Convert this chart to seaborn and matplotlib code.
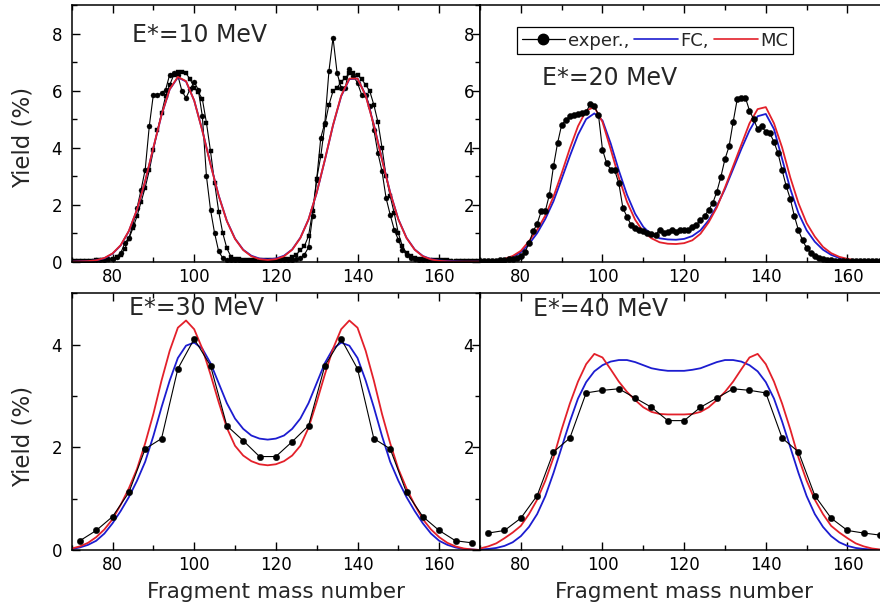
import matplotlib
matplotlib.use("Agg")
import numpy as np
import pandas as pd
import matplotlib.pyplot as plt
import seaborn as sns
from matplotlib.ticker import MultipleLocator
from matplotlib.lines import Line2D

# ---------------- data ----------------
mass_exp = list(range(70, 171))          # experimental points, step 1 (E*=10, 20 MeV)
mass_exp4 = list(range(72, 169, 4))      # experimental points, step 4 (E*=30, 40 MeV)
mass_th = list(range(70, 171, 2))        # theory curves

# E*=10 MeV : two experimental sets (circles / squares)
exp10_circ = [0.03, 0.03, 0.03, 0.03, 0.04, 0.04, 0.05, 0.05, 0.06, 0.08,
              0.10, 0.18, 0.30, 0.65, 0.83, 1.30, 1.88, 2.53, 3.23, 4.75,
              5.86, 5.86, 5.90, 6.03, 6.56, 6.60, 6.53, 5.98, 5.74, 6.05,
              6.30, 6.03, 5.10, 3.00, 1.82, 1.00, 0.36, 0.13, 0.07, 0.05,
              0.05, 0.05, 0.04, 0.04, 0.04, 0.04, 0.04, 0.04, 0.04, 0.04,
              0.05, 0.05, 0.05, 0.06, 0.07, 0.08,
              0.12, 0.25, 0.50, 1.60, 2.88, 4.34, 4.87, 6.68, 7.85, 6.62,
              6.09, 6.10, 6.76, 6.50, 6.27, 5.86, 5.85, 5.45, 4.63, 3.81,
              3.17, 2.23, 1.65, 1.12, 0.77, 0.42, 0.25, 0.13, 0.08, 0.06,
              0.05, 0.05, 0.05, 0.04, 0.04, 0.04, 0.04, 0.03, 0.03, 0.03,
              0.03, 0.03, 0.03, 0.03, 0.03]
exp10_sq = [0.03, 0.03, 0.03, 0.04, 0.04, 0.04, 0.05, 0.05, 0.06, 0.07,
            0.10, 0.15, 0.25, 0.45, 0.80, 1.18, 1.60, 2.10, 2.60, 3.20,
            3.90, 4.60, 5.20, 5.80, 6.20, 6.55, 6.65, 6.65, 6.60, 6.40,
            6.10, 5.95, 5.70, 4.87, 3.87, 2.76, 1.76, 1.00, 0.47, 0.18,
            0.10, 0.08, 0.07, 0.07, 0.06, 0.06, 0.06, 0.06, 0.06, 0.06,
            0.07, 0.07, 0.08,
            0.10, 0.15, 0.25, 0.40, 0.55, 0.90, 1.77, 2.90, 3.70, 4.80,
            5.50, 5.98, 6.10, 6.30, 6.45, 6.60, 6.60, 6.55, 6.40, 6.20,
            5.98, 5.50, 4.90, 4.00, 2.99, 2.30, 1.70, 1.00, 0.54, 0.30,
            0.20, 0.13, 0.10, 0.08, 0.07, 0.06, 0.06, 0.05, 0.05, 0.05,
            0.04, 0.04, 0.04, 0.04, 0.03, 0.03, 0.03, 0.03]
fc10 = [0.00, 0.01, 0.02, 0.05, 0.12, 0.28, 0.57, 1.07, 1.82, 2.82,
        3.99, 5.14, 6.04, 6.46, 6.32, 5.65, 4.60, 3.42, 2.32, 1.43,
        0.81, 0.42, 0.21, 0.11, 0.08, 0.11, 0.21, 0.43, 0.84, 1.48,
        2.41, 3.56, 4.78, 5.80, 6.40, 6.42, 5.84, 4.81, 3.59, 2.43,
        1.49, 0.84, 0.43, 0.20, 0.09, 0.04, 0.02, 0.01, 0.00, 0.00, 0.00]
mc10 = [0.00, 0.01, 0.02, 0.05, 0.13, 0.29, 0.58, 1.08, 1.83, 2.83,
        4.00, 5.15, 6.05, 6.48, 6.33, 5.65, 4.59, 3.41, 2.31, 1.42,
        0.80, 0.41, 0.19, 0.09, 0.06, 0.09, 0.19, 0.42, 0.83, 1.48,
        2.42, 3.57, 4.79, 5.82, 6.42, 6.42, 5.82, 4.79, 3.57, 2.42,
        1.48, 0.83, 0.42, 0.19, 0.08, 0.03, 0.01, 0.00, 0.00, 0.00, 0.00]

# E*=20 MeV
exp20 = [0.03, 0.03, 0.03, 0.04, 0.04, 0.05, 0.06, 0.08, 0.10, 0.14,
         0.19, 0.33, 0.65, 1.06, 1.33, 1.77, 1.78, 2.35, 3.35, 4.16,
         4.80, 4.96, 5.10, 5.16, 5.18, 5.22, 5.25, 5.53, 5.45, 5.16,
         3.93, 3.46, 3.23, 3.20, 2.75, 1.88, 1.58, 1.29, 1.17, 1.12,
         1.06, 1.00, 0.98, 0.94, 1.12, 1.00, 1.05, 1.12, 1.05, 1.12,
         1.12, 1.12, 1.20, 1.30, 1.45, 1.60, 1.82, 2.05, 2.45, 2.98,
         3.60, 4.04, 4.90, 5.70, 5.74, 5.75, 5.30, 5.00, 4.65, 4.75,
         4.55, 4.50, 4.20, 3.80, 3.20, 2.65, 2.20, 1.60, 1.10, 0.75,
         0.48, 0.30, 0.19, 0.13, 0.10, 0.07, 0.05, 0.04, 0.04, 0.03,
         0.03, 0.03, 0.03, 0.02, 0.02, 0.02, 0.02, 0.02, 0.02, 0.02, 0.02]
fc20 = [0.01, 0.02, 0.04, 0.08, 0.17, 0.33, 0.62, 1.00, 1.50, 2.12,
        2.90, 3.70, 4.45, 5.00, 5.20, 4.95, 4.15, 3.20, 2.35, 1.68,
        1.22, 0.95, 0.82, 0.78, 0.77, 0.80, 0.90, 1.10, 1.45, 1.95,
        2.55, 3.25, 3.95, 4.60, 5.10, 5.18, 4.65, 3.60, 2.55, 1.70,
        1.10, 0.70, 0.42, 0.24, 0.13, 0.07, 0.04, 0.02, 0.01, 0.01, 0.00]
mc20 = [0.01, 0.02, 0.05, 0.10, 0.20, 0.38, 0.72, 1.12, 1.62, 2.28,
        3.10, 3.97, 4.75, 5.30, 5.42, 4.90, 3.95, 2.95, 2.10, 1.47,
        1.05, 0.82, 0.68, 0.63, 0.62, 0.65, 0.75, 0.98, 1.38, 1.90,
        2.60, 3.35, 4.10, 4.85, 5.35, 5.42, 4.85, 4.00, 2.95, 2.05,
        1.35, 0.88, 0.52, 0.30, 0.17, 0.10, 0.05, 0.03, 0.02, 0.01, 0.01]

# E*=30 MeV
exp30 = [0.18, 0.38, 0.65, 1.12, 1.97, 2.17, 3.53, 4.11, 3.59, 2.42,
         2.13, 1.82, 1.82, 2.11, 2.42, 3.59, 4.11, 3.53, 2.17, 1.97,
         1.12, 0.65, 0.38, 0.18, 0.14]
fc30 = [0.02, 0.05, 0.10, 0.18, 0.32, 0.52, 0.76, 1.03, 1.35, 1.72,
        2.22, 2.78, 3.30, 3.74, 3.98, 4.04, 3.92, 3.64, 3.25, 2.86,
        2.56, 2.36, 2.23, 2.17, 2.15, 2.17, 2.23, 2.36, 2.56, 2.86,
        3.25, 3.64, 3.92, 4.04, 3.98, 3.74, 3.30, 2.78, 2.22, 1.72,
        1.35, 1.03, 0.76, 0.52, 0.32, 0.18, 0.10, 0.05, 0.02, 0.01, 0.00]
mc30 = [0.03, 0.07, 0.14, 0.25, 0.40, 0.60, 0.88, 1.20, 1.58, 2.08,
        2.65, 3.30, 3.88, 4.33, 4.47, 4.30, 3.92, 3.42, 2.88, 2.38,
        2.03, 1.84, 1.73, 1.67, 1.65, 1.67, 1.73, 1.84, 2.03, 2.38,
        2.88, 3.42, 3.92, 4.30, 4.47, 4.33, 3.88, 3.30, 2.65, 2.08,
        1.58, 1.20, 0.88, 0.60, 0.40, 0.25, 0.14, 0.07, 0.03, 0.01, 0.00]

# E*=40 MeV
exp40 = [0.33, 0.38, 0.62, 1.06, 1.91, 2.18, 3.06, 3.11, 3.14, 2.96,
         2.78, 2.52, 2.52, 2.78, 2.96, 3.14, 3.11, 3.06, 2.18, 1.91,
         1.06, 0.62, 0.38, 0.33, 0.29]
fc40 = [0.01, 0.02, 0.04, 0.08, 0.15, 0.27, 0.45, 0.70, 1.05, 1.50,
        2.00, 2.50, 2.95, 3.27, 3.48, 3.60, 3.67, 3.70, 3.70, 3.66,
        3.60, 3.54, 3.51, 3.49, 3.49, 3.49, 3.51, 3.54, 3.60, 3.66,
        3.70, 3.70, 3.67, 3.60, 3.48, 3.27, 2.95, 2.50, 2.00, 1.50,
        1.05, 0.70, 0.45, 0.27, 0.15, 0.08, 0.04, 0.02, 0.01, 0.00, 0.00]
mc40 = [0.03, 0.07, 0.13, 0.23, 0.34, 0.47, 0.70, 0.98, 1.35, 1.80,
        2.35, 2.85, 3.28, 3.62, 3.82, 3.75, 3.52, 3.28, 3.08, 2.92,
        2.78, 2.69, 2.65, 2.64, 2.64, 2.64, 2.65, 2.69, 2.78, 2.92,
        3.08, 3.28, 3.52, 3.75, 3.82, 3.62, 3.28, 2.85, 2.35, 1.80,
        1.35, 0.98, 0.70, 0.47, 0.34, 0.23, 0.13, 0.07, 0.03, 0.01, 0.00]

titles = ["E*=10 MeV", "E*=20 MeV", "E*=30 MeV", "E*=40 MeV"]
legend_labels = ["exper.,", "FC,", "MC"]
x_label = "Fragment mass number"
y_label = "Yield (%)"

# ---------------- style ----------------
sns.set_theme(style="ticks")
plt.rcParams['font.family'] = ['DejaVu Sans']
plt.rcParams['axes.edgecolor'] = 'black'
plt.rcParams['axes.linewidth'] = 1.1
plt.rcParams['xtick.color'] = 'black'
plt.rcParams['ytick.color'] = 'black'

BLUE = '#1c1cd0'
RED = '#e3202a'
BLACK = 'black'

fig = plt.figure(figsize=(8.8, 6.09), dpi=100)
fig.patch.set_facecolor('white')

L = 71.7 / 880
R = 480.0 / 880
W = 408.3 / 880
H = 256.7 / 609
TB = (609 - 261.7) / 609
BB = (609 - 550.0) / 609

ax1 = fig.add_axes([L, TB, W, H])
ax2 = fig.add_axes([R, TB, W, H])
ax3 = fig.add_axes([L, BB, W, H])
ax4 = fig.add_axes([R, BB, W, H])


def theory(ax, fc, mc):
    sns.lineplot(x=mass_th, y=fc, ax=ax, color=BLUE, linewidth=1.3,
                 estimator=None, sort=False, legend=False)
    sns.lineplot(x=mass_th, y=mc, ax=ax, color=RED, linewidth=1.3,
                 estimator=None, sort=False, legend=False)


def experiment(ax, xs, ys, marker, ms):
    sns.lineplot(x=xs, y=ys, ax=ax, color=BLACK, linewidth=0.8,
                 marker=marker, markersize=ms, markerfacecolor=BLACK,
                 markeredgecolor=BLACK, markeredgewidth=0.3,
                 estimator=None, sort=False, legend=False)


# panel 1
experiment(ax1, mass_exp, exp10_circ, 'o', 3.6)
experiment(ax1, mass_exp, exp10_sq, 's', 3.1)
theory(ax1, fc10, mc10)
# panel 2
theory(ax2, fc20, mc20)
experiment(ax2, mass_exp, exp20, 'o', 4.4)
# panel 3
theory(ax3, fc30, mc30)
experiment(ax3, mass_exp4, exp30, 'o', 4.6)
# panel 4
theory(ax4, fc40, mc40)
experiment(ax4, mass_exp4, exp40, 'o', 4.6)

for ax in (ax1, ax2, ax3, ax4):
    ax.set_xlim(70, 170)
    ax.xaxis.set_major_locator(MultipleLocator(20))
    ax.xaxis.set_minor_locator(MultipleLocator(10))
    ax.set_facecolor('white')
    for sp in ax.spines.values():
        sp.set_visible(True)
        sp.set_color('black')
        sp.set_linewidth(1.1)
    ax.tick_params(which='both', direction='in', top=True, right=True,
                   labelsize=12, width=1.0, colors='black')
    ax.tick_params(which='major', length=6)
    ax.tick_params(which='minor', length=3.5)
    ax.tick_params(axis='x', pad=4.5)
    ax.set_xlabel('')
    ax.set_ylabel('')

for ax in (ax1, ax2):
    ax.set_ylim(0, 9)
    ax.yaxis.set_major_locator(MultipleLocator(2))
    ax.yaxis.set_minor_locator(MultipleLocator(1))
for ax in (ax3, ax4):
    ax.set_ylim(0, 5)
    ax.yaxis.set_major_locator(MultipleLocator(2))
    ax.yaxis.set_minor_locator(MultipleLocator(1))

ax1.tick_params(axis='y', pad=7)
ax3.tick_params(axis='y', pad=7)
ax2.set_yticks([0, 2, 4, 6, 8])
ax2.set_yticklabels(['', '2', '4', '6', '8'])
ax4.set_yticks([0, 2, 4])
ax4.set_yticklabels(['', '2', '4'])
for ax in (ax2, ax4):
    ax.tick_params(axis='y', which='both', left=True, length=0, pad=4.3)

# titles
ax1.text(0.148, 0.857, titles[0], transform=ax1.transAxes, fontsize=17,
         ha='left', va='baseline')
ax2.text(0.151, 0.688, titles[1], transform=ax2.transAxes, fontsize=17,
         ha='left', va='baseline')
ax3.text(0.141, 0.915, titles[2], transform=ax3.transAxes, fontsize=17,
         ha='left', va='baseline')
ax4.text(0.129, 0.912, titles[3], transform=ax4.transAxes, fontsize=17,
         ha='left', va='baseline')

# axis labels
ax1.set_ylabel(y_label, fontsize=16.5)
ax1.yaxis.set_label_coords(-0.09, 0.486)
ax3.set_ylabel(y_label, fontsize=16.5)
ax3.yaxis.set_label_coords(-0.09, 0.444)
ax3.set_xlabel(x_label, fontsize=15.5)
ax3.xaxis.set_label_coords(0.5, -0.125)
ax4.set_xlabel(x_label, fontsize=15.5)
ax4.xaxis.set_label_coords(0.5, -0.125)

# legend
handles = [Line2D([], [], color=BLACK, lw=0.9, marker='o', ms=7.5,
                  markerfacecolor=BLACK, markeredgecolor=BLACK, label=legend_labels[0]),
           Line2D([], [], color=BLUE, lw=1.2, label=legend_labels[1]),
           Line2D([], [], color=RED, lw=1.2, label=legend_labels[2])]
leg = ax2.legend(handles=handles, loc='upper left', bbox_to_anchor=(0.0907, 0.914),
                 ncol=3, frameon=True, fancybox=False, edgecolor='black',
                 fontsize=13, handlelength=2.4, handletextpad=0.15,
                 columnspacing=0.3, borderpad=0.25, borderaxespad=0)
leg.get_frame().set_linewidth(0.9)
leg.get_frame().set_alpha(1)

fig.savefig('out.png', dpi=100, facecolor='white')
